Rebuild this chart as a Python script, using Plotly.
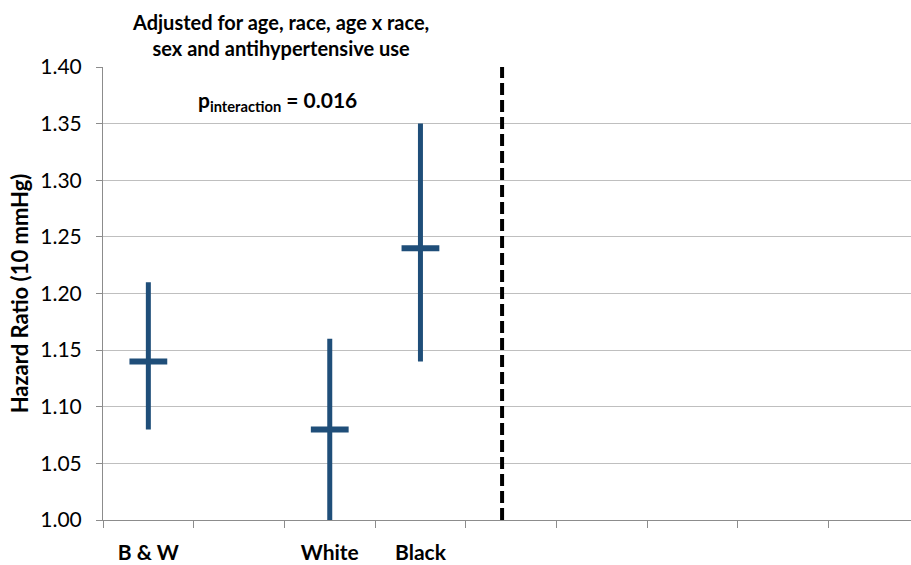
import plotly.graph_objects as go

# Hazard ratio per 10 mmHg with 95% CI, by group
groups = ["B & W", "White", "Black"]
group_pos = [0, 2, 3]          # category slot of each group
hr = [1.14, 1.08, 1.24]
ci_low = [1.08, 1.00, 1.14]
ci_high = [1.21, 1.16, 1.35]

n_slots = 9                    # category slots along the x axis
divider_x = 3.9                # dashed separator position
y_ticks = [1.00, 1.05, 1.10, 1.15, 1.20, 1.25, 1.30, 1.35, 1.40]

blue = "#1F4E79"
axis_gray = "#8C8C8C"
grid_gray = "#BFBFBF"
font_family = "Lato, 'Open Sans', sans-serif"

fig = go.Figure()

fig.add_trace(go.Scatter(
    x=group_pos,
    y=hr,
    mode="markers",
    marker=dict(symbol="line-ew", size=27, color=blue,
                line=dict(width=6, color=blue)),
    error_y=dict(
        type="data",
        symmetric=False,
        array=[h - m for h, m in zip(ci_high, hr)],
        arrayminus=[m - l for m, l in zip(hr, ci_low)],
        thickness=5,
        width=0,
        color=blue,
    ),
    showlegend=False,
    hoverinfo="skip",
))

# dashed separator
fig.add_shape(
    type="line", xref="x", yref="y",
    x0=divider_x, x1=divider_x, y0=y_ticks[0], y1=y_ticks[-1],
    line=dict(color="black", width=4, dash="12px,5px"),
)

fig.update_layout(
    width=911, height=565,
    margin=dict(l=103, r=0, t=67, b=45),
    plot_bgcolor="white",
    paper_bgcolor="white",
    font=dict(family=font_family, color="black"),
    xaxis=dict(
        range=[-0.5, -0.5 + 808 / 90.7],
        tickmode="array",
        tickvals=group_pos,
        ticktext=groups,
        ticks="",
        tickfont=dict(size=21, family=font_family, color="black", weight="bold"),
        ticklabelstandoff=14,
        showgrid=False,
        zeroline=False,
        showline=True,
        linecolor=axis_gray,
        linewidth=1,
        minor=dict(
            tickmode="array",
            tickvals=[i - 0.5 for i in range(n_slots + 1)],
            ticks="outside",
            ticklen=7,
            tickcolor=axis_gray,
            tickwidth=1,
            showgrid=False,
        ),
    ),
    yaxis=dict(
        range=[y_ticks[0], y_ticks[-1]],
        tickmode="array",
        tickvals=y_ticks,
        ticktext=[f"{v:.2f}" for v in y_ticks],
        tickfont=dict(size=21, family=font_family, color="black"),
        ticks="outside",
        ticklen=6,
        tickcolor=axis_gray,
        ticklabelstandoff=10,
        showgrid=True,
        gridcolor=grid_gray,
        gridwidth=1,
        zeroline=False,
        showline=True,
        linecolor=axis_gray,
        linewidth=1,
        title=dict(
            text="<b>Hazard Ratio (10 mmHg)</b>",
            font=dict(size=22, family=font_family, color="black"),
            standoff=5,
        ),
    ),
    annotations=[
        dict(
            text="<b>Adjusted for age, race, age x race,<br>sex and antihypertensive use</b>",
            xref="paper", yref="paper",
            x=(280 - 103) / 808, y=1 + (67 - 35) / 453,
            xanchor="center", yanchor="middle",
            showarrow=False, align="center",
            font=dict(size=20, family=font_family, color="black"),
        ),
        dict(
            text="<b>p<sub>interaction</sub> = 0.016</b>",
            xref="paper", yref="paper",
            x=(277 - 103) / 808, y=1 - (101 - 67) / 453,
            xanchor="center", yanchor="middle",
            showarrow=False,
            font=dict(size=21, family=font_family, color="black"),
        ),
    ],
)

fig.write_html("out.html")
